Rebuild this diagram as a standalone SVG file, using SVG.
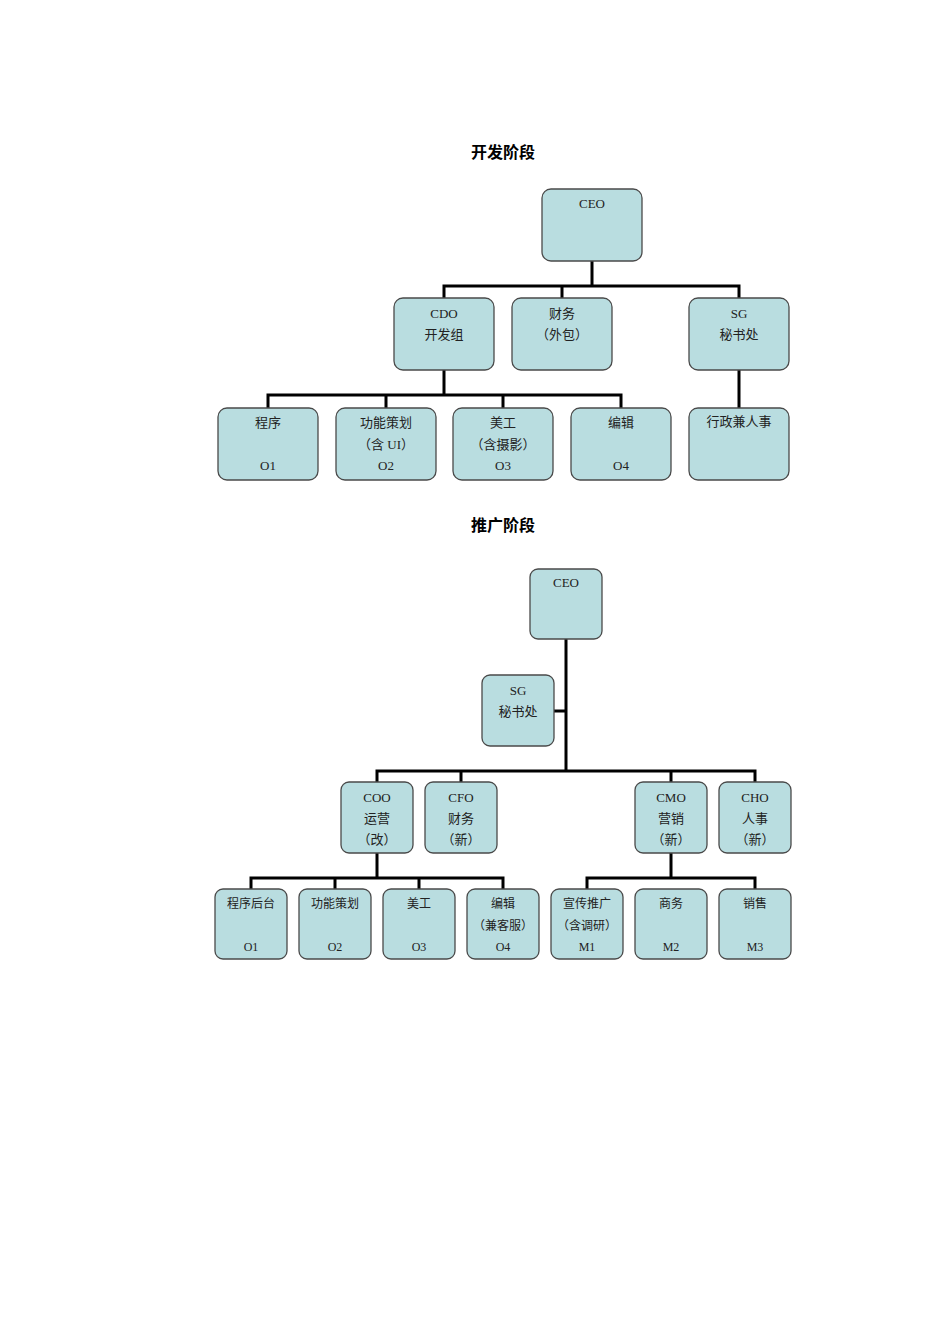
<svg xmlns="http://www.w3.org/2000/svg" width="950" height="1344" viewBox="0 0 950 1344">
<style>
.b{fill:#b9dde0;stroke:#4a4a4a;stroke-width:1.3}
text{font-family:"Liberation Serif","Noto Sans CJK SC",serif;font-size:13px;fill:#222;text-anchor:middle}
.t{font-size:16px;font-weight:bold;fill:#000}
.c{fill:none;stroke:#000;stroke-width:3}
</style>
<rect width="950" height="1344" fill="#fff"/>
<text class="t" x="503" y="158">开发阶段</text>
<text class="t" x="503" y="531">推广阶段</text>
<g id="connectors">
<path class="c" d="M592 261V286M444 298V286H739V298M562 286V298"/>
<path class="c" d="M444 370V395M268 408V395H621V408M386 395V408M503 395V408M739 370V408"/>
<path class="c" d="M566 639V771M554 711H566M377 782V771H755V782M461 771V782M671 771V782"/>
<path class="c" d="M377 853V878M251 889V878H503V889M335 878V889M419 878V889M671 853V878M587 889V878H755V889"/>
</g>
<g id="ceo1"><rect class="b" x="542" y="189" width="100" height="72" rx="9"/><text x="592" y="208">CEO</text></g>
<g id="cdo"><rect class="b" x="394" y="298" width="100" height="72" rx="9"/><text x="444" y="318">CDO</text><text x="444" y="339">开发组</text></g>
<g id="cw1"><rect class="b" x="512" y="298" width="100" height="72" rx="9"/><text x="562" y="318">财务</text><text x="562" y="339">（外包）</text></g>
<g id="sg1"><rect class="b" x="689" y="298" width="100" height="72" rx="9"/><text x="739" y="318">SG</text><text x="739" y="339">秘书处</text></g>
<g id="cx1"><rect class="b" x="218" y="408" width="100" height="72" rx="9"/><text x="268" y="427">程序</text><text x="268" y="470">O1</text></g>
<g id="gn1"><rect class="b" x="336" y="408" width="100" height="72" rx="9"/><text x="386" y="427">功能策划</text><text x="386" y="449">（含 UI）</text><text x="386" y="470">O2</text></g>
<g id="mg1"><rect class="b" x="453" y="408" width="100" height="72" rx="9"/><text x="503" y="427">美工</text><text x="503" y="449">（含摄影）</text><text x="503" y="470">O3</text></g>
<g id="bj1"><rect class="b" x="571" y="408" width="100" height="72" rx="9"/><text x="621" y="427">编辑</text><text x="621" y="470">O4</text></g>
<g id="xz1"><rect class="b" x="689" y="408" width="100" height="72" rx="9"/><text x="739" y="426">行政兼人事</text></g>
<g id="ceo2"><rect class="b" x="530" y="569" width="72" height="70" rx="8"/><text x="566" y="587">CEO</text></g>
<g id="sg2"><rect class="b" x="482" y="675" width="72" height="71" rx="8"/><text x="518" y="695">SG</text><text x="518" y="716">秘书处</text></g>
<g id="coo"><rect class="b" x="341" y="782" width="72" height="71" rx="8"/><text x="377" y="802">COO</text><text x="377" y="823">运营</text><text x="377" y="844">（改）</text></g>
<g id="cfo"><rect class="b" x="425" y="782" width="72" height="71" rx="8"/><text x="461" y="802">CFO</text><text x="461" y="823">财务</text><text x="461" y="844">（新）</text></g>
<g id="cmo"><rect class="b" x="635" y="782" width="72" height="71" rx="8"/><text x="671" y="802">CMO</text><text x="671" y="823">营销</text><text x="671" y="844">（新）</text></g>
<g id="cho"><rect class="b" x="719" y="782" width="72" height="71" rx="8"/><text x="755" y="802">CHO</text><text x="755" y="823">人事</text><text x="755" y="844">（新）</text></g>
<g id="cx2"><rect class="b" x="215" y="889" width="72" height="70" rx="8"/><text x="251" y="908" style="font-size:12px">程序后台</text><text x="251" y="951" style="font-size:12px">O1</text></g>
<g id="gn2"><rect class="b" x="299" y="889" width="72" height="70" rx="8"/><text x="335" y="908" style="font-size:12px">功能策划</text><text x="335" y="951" style="font-size:12px">O2</text></g>
<g id="mg2"><rect class="b" x="383" y="889" width="72" height="70" rx="8"/><text x="419" y="908" style="font-size:12px">美工</text><text x="419" y="951" style="font-size:12px">O3</text></g>
<g id="bj2"><rect class="b" x="467" y="889" width="72" height="70" rx="8"/><text x="503" y="908" style="font-size:12px">编辑</text><text x="503" y="930" style="font-size:12px">（兼客服）</text><text x="503" y="951" style="font-size:12px">O4</text></g>
<g id="xc"><rect class="b" x="551" y="889" width="72" height="70" rx="8"/><text x="587" y="908" style="font-size:12px">宣传推广</text><text x="587" y="930" style="font-size:12px">（含调研）</text><text x="587" y="951" style="font-size:12px">M1</text></g>
<g id="sw"><rect class="b" x="635" y="889" width="72" height="70" rx="8"/><text x="671" y="908" style="font-size:12px">商务</text><text x="671" y="951" style="font-size:12px">M2</text></g>
<g id="xs"><rect class="b" x="719" y="889" width="72" height="70" rx="8"/><text x="755" y="908" style="font-size:12px">销售</text><text x="755" y="951" style="font-size:12px">M3</text></g>
</svg>
